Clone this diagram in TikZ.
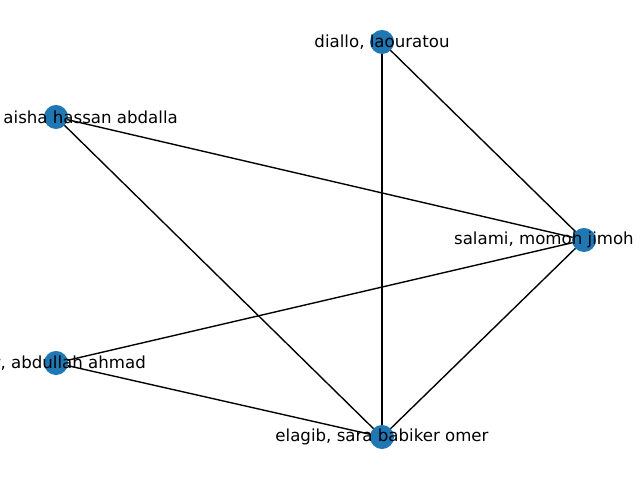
\documentclass[tikz,border=0pt]{standalone}
\usepackage{fontspec}
\setmainfont{DejaVu Sans}
\definecolor{nodeblue}{HTML}{1F77B4}
\tikzset{
  person/.style={circle,fill=nodeblue,inner sep=0pt,minimum size=0.24in},
  who/.style={font=\fontsize{12}{14}\selectfont,inner sep=0pt},
  tie/.style={draw=black,line width=1pt}
}
\begin{document}
\begin{tikzpicture}[x=0.01in,y=-0.01in]
            \useasboundingbox (0,0) rectangle (640,480);
            % people
            \coordinate (diallo) at (382,42);
            \coordinate (aisha) at (56,117);
            \coordinate (salami) at (584,240);
            \coordinate (abdullah) at (56,363);
            \coordinate (elagib) at (382,437);
            % ties
            \draw[tie] (diallo) -- (salami);
            \draw[tie] (diallo) -- (elagib);
            \draw[tie] (aisha) -- (salami);
            \draw[tie] (aisha) -- (elagib);
            \draw[tie] (abdullah) -- (salami);
            \draw[tie] (abdullah) -- (elagib);
            \draw[tie] (salami) -- (elagib);
            % discs over the ties
            \foreach \p in {diallo,aisha,salami,abdullah,elagib}
                \node[person] (\p-dot) at (\p) {};
            % names
            \node[who] (diallo-name) at (diallo) {diallo, laouratou};
            \node[who,anchor=east] (aisha-name) at ([xshift=1.22in]aisha) {aisha hassan abdalla};
            \node[who,anchor=east] (salami-name) at ([xshift=0.50in]salami) {salami, momoh jimoh};
            \node[who,anchor=east] (abdullah-name) at ([xshift=0.90in]abdullah) {r, abdullah ahmad};
            \node[who] (elagib-name) at (elagib) {elagib, sara babiker omer};
\end{tikzpicture}
\end{document}
